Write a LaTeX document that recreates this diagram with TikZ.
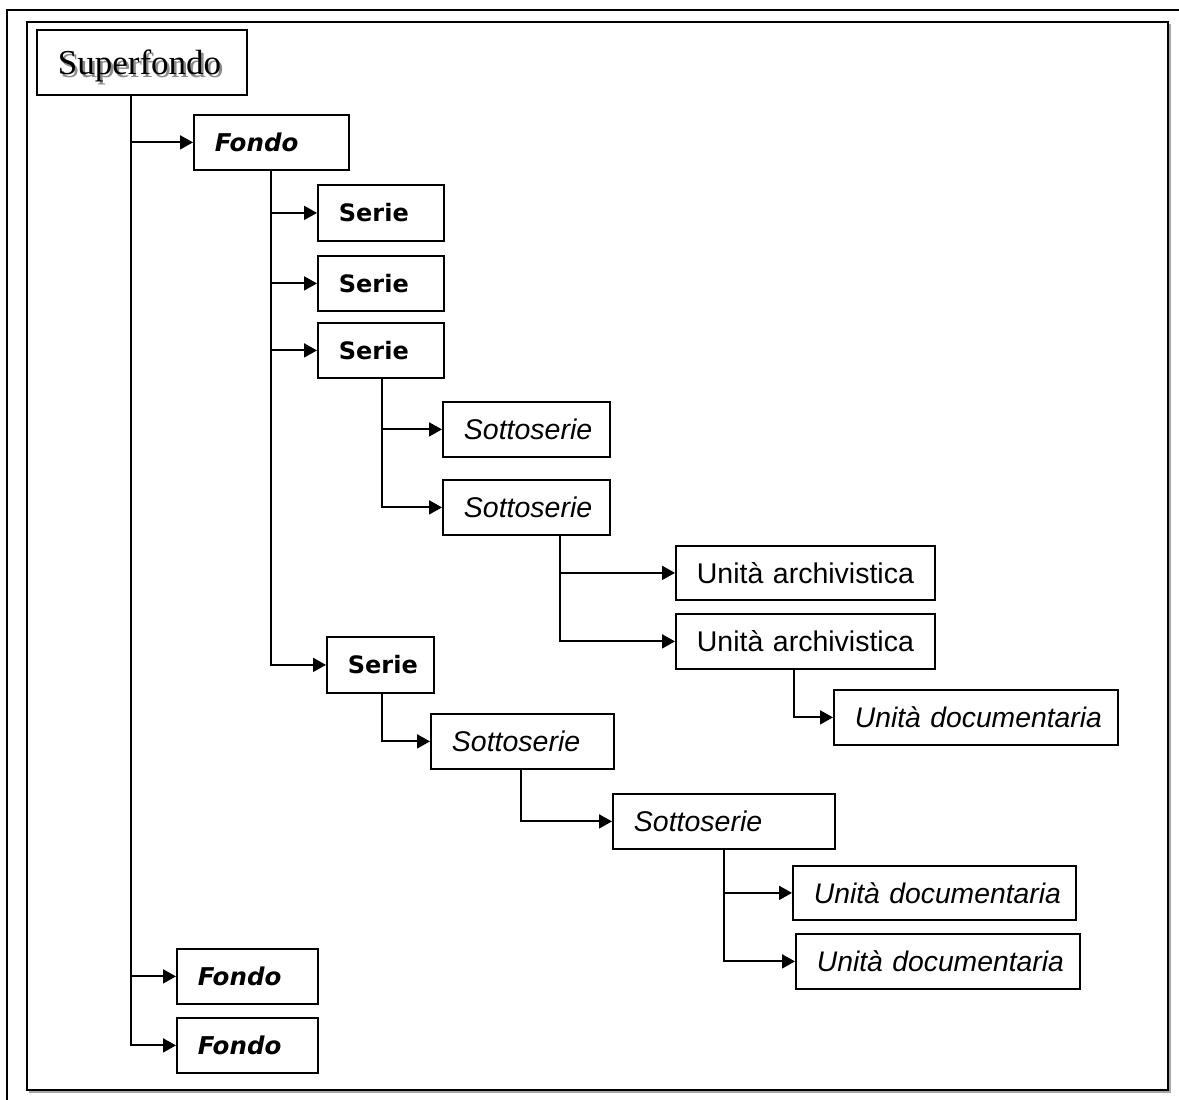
\documentclass[tikz,border=0pt]{standalone}
\usepackage{fontspec}
\setmainfont{Liberation Sans}
\newfontfamily\titleface{Liberation Serif}
\newfontfamily\verd{DejaVu Sans}[BoldFont={DejaVu Sans Bold},ItalicFont={DejaVu Sans Oblique},BoldItalicFont={DejaVu Sans Bold Oblique}]
\usetikzlibrary{arrows.meta}

\tikzset{
  % boxes: top-left corner given, width #1, height #2, text 21pt from the left edge
  box/.style 2 args={draw, line width=1.8pt, anchor=north west,
    inner xsep=0pt, inner ysep=0pt, text width=#1, minimum height=#2,
    align=left, execute at begin node={\hspace*{21pt}}},
  toplevel/.style={font=\titleface\fontsize{35}{40}\selectfont, text depth=0pt},
  fondo/.style={font=\verd\bfseries\itshape\fontsize{24.5}{28}\selectfont},
  serie/.style={font=\verd\bfseries\fontsize{24}{28}\selectfont},
  sotto/.style={font=\itshape\fontsize{28.5}{32}\selectfont},
  unita/.style={font=\fontsize{28.5}{32}\selectfont},
  docu/.style={font=\itshape\fontsize{28.3}{32}\selectfont},
  link/.style={line width=1.9pt, -{Triangle[length=13pt,width=14pt]}},
}

\begin{document}
\begin{tikzpicture}[x=1pt, y=-1pt]
\useasboundingbox (0,0) rectangle (1179,1100);
\fill[white] (0,0) rectangle (1179,1100);

% page frame
\draw[line width=2.8pt] (7,1100) -- (7,10) -- (1179,10);
\draw[gray!70, line width=1.5pt] (1169.8,24) -- (1169.8,1091.8) -- (29,1091.8);
\draw[line width=1.8pt] (27,22) rectangle (1168,1090);

% hierarchy levels
\node[box={210pt}{65pt}, toplevel] (sup) at (36,29)
  {\rlap{\hspace{2.4pt}\raisebox{-2.4pt}{\color{black!45}Superfondo}}Superfondo};
\node[box={155pt}{55pt}, fondo] (f1) at (193,114) {Fondo};
\node[box={126pt}{56pt}, serie] (s1) at (317,184) {Serie};
\node[box={126pt}{55pt}, serie] (s2) at (317,255) {Serie};
\node[box={126pt}{55pt}, serie] (s3) at (317,322) {Serie};
\node[box={167pt}{55pt}, sotto] (ss1) at (442,401) {Sottoserie};
\node[box={167pt}{55pt}, sotto] (ss2) at (442,479) {Sottoserie};
\node[box={259pt}{54pt}, unita] (ua1) at (675,545) {Unità archivistica};
\node[box={259pt}{55pt}, unita] (ua2) at (675,613) {Unità archivistica};
\node[box={284pt}{55pt}, docu] (ud1) at (833,689) {Unità documentaria};
\node[box={107pt}{56pt}, serie] (s4) at (326,636) {Serie};
\node[box={183pt}{55pt}, sotto] (ss3) at (430,713) {Sottoserie};
\node[box={222pt}{55pt}, sotto] (ss4) at (612,793) {Sottoserie};
\node[box={283pt}{54pt}, docu] (ud2) at (792,865) {Unità documentaria};
\node[box={284pt}{55pt}, docu] (ud3) at (795,933) {Unità documentaria};
\node[box={141pt}{55pt}, fondo] (f2) at (176,948) {Fondo};
\node[box={141pt}{55pt}, fondo] (f3) at (176,1017) {Fondo};

% connectors
\foreach \c in {f1,f2,f3}
  \draw[link] ([xshift=-11pt]sup.south) |- (\c.west);
\foreach \c in {s1,s2,s3,s4}
  \draw[link] (f1.south) |- (\c.west);
\foreach \c in {ss1,ss2}
  \draw[link] ([xshift=1pt]s3.south) |- (\c.west);
\foreach \c in {ua1,ua2}
  \draw[link] ([xshift=33.5pt]ss2.south) |- (\c.west);
\draw[link] ([xshift=-11.5pt]ua2.south) |- (ud1.west);
\draw[link] ([xshift=1.5pt]s4.south) |- (ss3.west);
\draw[link] ([xshift=-1.5pt]ss3.south) |- (ss4.west);
\foreach \c in {ud2,ud3}
  \draw[link] (ss4.south) |- (\c.west);
\end{tikzpicture}
\end{document}
